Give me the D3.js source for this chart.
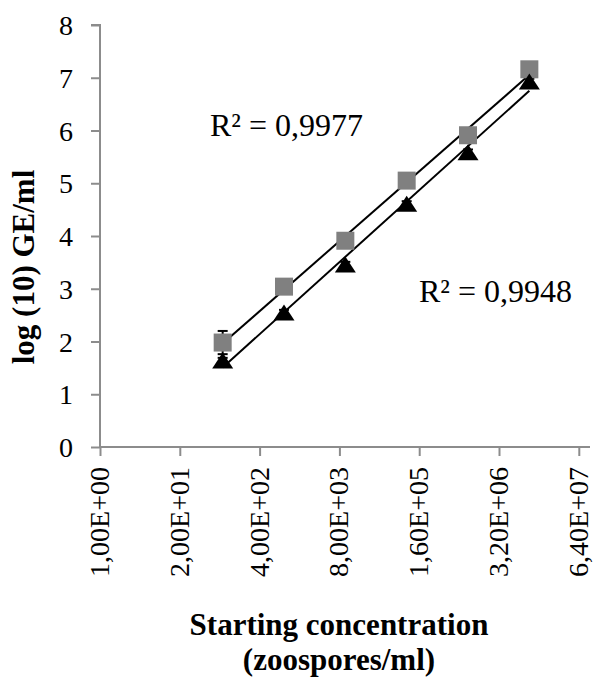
<!DOCTYPE html>
<html>
<head>
<meta charset="utf-8">
<script src="https://cdn.jsdelivr.net/npm/d3@7"></script>
<style>
  html, body { margin: 0; padding: 0; background: #fff; }
  svg { display: block; }
  text { font-family: "Liberation Serif", "Times New Roman", serif; fill: #000; }
</style>
</head>
<body>
<svg id="chart" width="593" height="677"></svg>
<script>
// Starting concentrations (zoospores/ml)
const concentrations = [1e2, 1e3, 1e4, 1e5, 1e6, 1e7];
// log(10) GE/ml measured for the two series
const seriesSquare = [1.98, 3.04, 3.91, 5.05, 5.91, 7.16];
const seriesTriangle = [1.64, 2.55, 3.46, 4.61, 5.59, 6.93];
// Standard deviations (error bars)
const errSquare = [0.22, 0.05, 0.05, 0.05, 0.05, 0.05];
const errTriangle = [0.05, 0.05, 0.05, 0.05, 0.05, 0.05];
// Axis ticks
const xTickValues = [1, 20, 400, 8000, 160000, 3200000, 64000000];
const xTickLabels = ["1,00E+00", "2,00E+01", "4,00E+02", "8,00E+03", "1,60E+05", "3,20E+06", "6,40E+07"];
const yTickValues = [0, 1, 2, 3, 4, 5, 6, 7, 8];
// Coefficients of determination shown beside the trend lines
const r2Labels = ["R² = 0,9977", "R² = 0,9948"];

const svg = d3.select("#chart");
const axisColor = "#8c8c8c";

const plot = { left: 100, right: 590, top: 25, bottom: 447 };
const tickStep = 79.8;

// Log axis with base 20, ticks every factor of 20
const x = d3.scaleLog().base(20)
  .domain([1, 64000000])
  .range([plot.left, plot.left + tickStep * 6]);
const y = d3.scaleLinear().domain([0, 8]).range([plot.bottom, plot.top]);

// Y axis
const yAxis = svg.append("g")
  .attr("transform", `translate(${plot.left},0)`)
  .call(d3.axisLeft(y).tickValues(yTickValues).tickSize(9).tickPadding(18).tickFormat(d3.format("d")));
yAxis.select(".domain").attr("stroke", axisColor).attr("stroke-width", 2).attr("d", `M-9,${plot.top}H0V${plot.bottom}`);
yAxis.selectAll(".tick line").attr("stroke", axisColor).attr("stroke-width", 2);
yAxis.selectAll(".tick text")
  .attr("font-size", 28).attr("font-family", "Liberation Serif").attr("fill", "#000")
  .attr("dy", "0.34em");

// X axis
const xAxis = svg.append("g")
  .attr("transform", `translate(0,${plot.bottom})`)
  .call(d3.axisBottom(x).tickValues(xTickValues).tickSize(9)
    .tickFormat((d, i) => xTickLabels[i]));
xAxis.select(".domain").attr("stroke", axisColor).attr("stroke-width", 2)
  .attr("d", `M${plot.left},0H${plot.right}`);
xAxis.selectAll(".tick line").attr("stroke", axisColor).attr("stroke-width", 2);
xAxis.selectAll(".tick text")
  .attr("font-size", 28).attr("font-family", "Liberation Serif").attr("fill", "#000")
  .attr("text-anchor", "end")
  .attr("transform", "rotate(-90)")
  .attr("x", -20).attr("y", 0).attr("dy", "0.3em");

// Logarithmic trend line: y = a*ln(x) + b
function fit(xs, ys) {
  const lx = xs.map(v => Math.log(v));
  const mx = d3.mean(lx), my = d3.mean(ys);
  let sxy = 0, sxx = 0;
  lx.forEach((v, i) => { sxy += (v - mx) * (ys[i] - my); sxx += (v - mx) * (v - mx); });
  const a = sxy / sxx;
  return { a, b: my - a * mx };
}

const series = [
  { values: seriesSquare, err: errSquare, shape: "square" },
  { values: seriesTriangle, err: errTriangle, shape: "triangle" }
];

series.forEach(s => {
  const f = fit(concentrations, s.values);
  const x0 = concentrations[0], x1 = concentrations[concentrations.length - 1];
  svg.append("line")
    .attr("x1", x(x0)).attr("y1", y(f.a * Math.log(x0) + f.b))
    .attr("x2", x(x1)).attr("y2", y(f.a * Math.log(x1) + f.b))
    .attr("stroke", "#000").attr("stroke-width", 2);
});

// Error bars
series.forEach(s => {
  const g = svg.append("g");
  concentrations.forEach((c, i) => {
    const cx = x(c);
    const top = y(s.values[i] + s.err[i]);
    const bot = y(s.values[i] - s.err[i]);
    g.append("line").attr("x1", cx).attr("x2", cx).attr("y1", top).attr("y2", bot)
      .attr("stroke", "#000").attr("stroke-width", 2);
    [top, bot].forEach(yy => g.append("line")
      .attr("x1", cx - 5).attr("x2", cx + 5).attr("y1", yy).attr("y2", yy)
      .attr("stroke", "#000").attr("stroke-width", 2));
  });
});

// Markers
const sq = series[0];
svg.append("g").selectAll("rect")
  .data(concentrations)
  .join("rect")
  .attr("x", d => x(d) - 9)
  .attr("y", (d, i) => y(sq.values[i]) - 9)
  .attr("width", 18).attr("height", 18)
  .attr("fill", "#808080");

const tri = series[1];
svg.append("g").selectAll("path")
  .data(concentrations)
  .join("path")
  .attr("d", (d, i) => {
    const cx = x(d), cy = y(tri.values[i]);
    return `M${cx},${cy - 8}L${cx + 10.5},${cy + 8}L${cx - 10.5},${cy + 8}Z`;
  })
  .attr("fill", "#000");

// R² annotations
svg.append("text").attr("x", 210).attr("y", 136)
  .attr("font-size", 32).text(r2Labels[0]);
svg.append("text").attr("x", 419).attr("y", 302)
  .attr("font-size", 32).text(r2Labels[1]);

// Axis titles
svg.append("text")
  .attr("transform", `translate(34,267) rotate(-90)`)
  .attr("text-anchor", "middle")
  .attr("font-size", 31).attr("font-weight", "bold")
  .text("log (10) GE/ml");

svg.append("text")
  .attr("x", 339).attr("y", 635)
  .attr("text-anchor", "middle")
  .attr("font-size", 31).attr("font-weight", "bold")
  .text("Starting concentration");
svg.append("text")
  .attr("x", 339).attr("y", 670)
  .attr("text-anchor", "middle")
  .attr("font-size", 31).attr("font-weight", "bold")
  .text("(zoospores/ml)");
</script>
</body>
</html>
